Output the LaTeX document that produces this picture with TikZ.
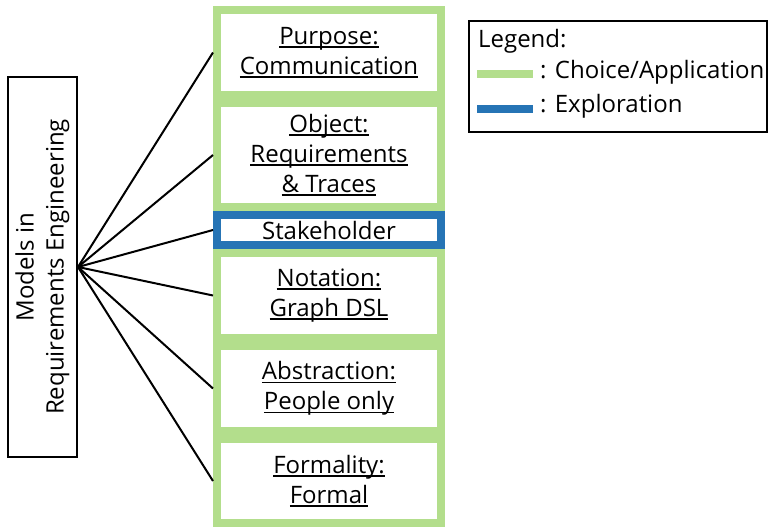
\documentclass[tikz,border=0pt]{standalone}
\usepackage{fontspec}
\setmainfont{Open Sans}
\usetikzlibrary{positioning}

\definecolor{choicegreen}{RGB}{179,222,140}
\definecolor{exploreblue}{RGB}{38,116,181}

% underlined facet value, rule at a fixed depth
\newcommand\uword[1]{\setbox0\hbox{#1}\rlap{\rule[-3.5pt]{\wd0}{1.6pt}}\box0}

\tikzset{
  facet/.style={draw=choicegreen, line width=8pt, fill=white, minimum width=224pt, align=center, inner sep=0pt},
  explore/.style={facet, draw=exploreblue},
  fan/.style={line width=2pt},
  keyline/.style={line width=8pt},
}

\begin{document}
\begin{tikzpicture}[x=1pt, y=-1pt, font=\fontsize{24}{30}\selectfont]
        \useasboundingbox (0,0) rectangle (769,528);
        % main concept, turned on its side
        \node [draw, line width=2pt, rotate=90, minimum width=380pt, minimum height=69pt, align=center] (models) at (42.5,267) {Models in\\Requirements Engineering};
        % facet column
        \node [facet, minimum height=85pt] (purpose) at (329,52.5) {\uword{Purpose:}\\\uword{Communication}};
        \node [facet, minimum height=104pt, below=0pt of purpose] (object) {\uword{Object:}\\\uword{Requirements}\\\uword{\&~Traces}};
        \node [explore, minimum height=30pt, below=0pt of object] (stakeholder) {Stakeholder};
        \node [facet, minimum height=85pt, below=0pt of stakeholder] (notation) {\uword{Notation:}\\\uword{Graph DSL}};
        \node [facet, minimum height=85pt, below=0pt of notation] (abstraction) {\uword{Abstraction:}\\\uword{People only}};
        \node [facet, minimum height=84pt, below=0pt of abstraction] (formality) {\uword{Formality:}\\\uword{Formal}};
        \foreach \f in {purpose,object,stakeholder,notation,abstraction,formality}
            \draw [fan] (models.south) -- (\f.west);
        % legend
        \node [draw, line width=2pt, minimum width=298pt, minimum height=111pt] (legend) at (618,76.5) {};
        \node [anchor=base west, inner sep=0pt] (legtitle) at (478,47) {Legend:};
        \node [anchor=base west, inner sep=0pt] (choicekey) at (540,78) {: Choice/Application};
        \node [anchor=base west, inner sep=0pt] (explorekey) at (540,112) {: Exploration};
        \draw [keyline, choicegreen] (477,74) -- (533,74);
        \draw [keyline, exploreblue] (477,109) -- (533,109);
    \end{tikzpicture}
\end{document}
